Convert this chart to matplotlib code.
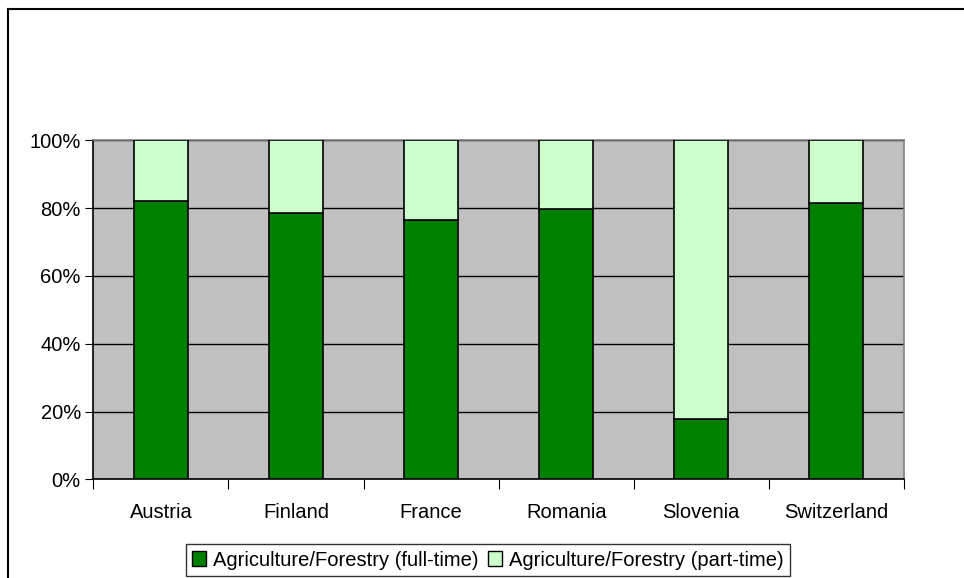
import matplotlib

matplotlib.use("Agg")
import matplotlib.pyplot as plt
from matplotlib.lines import Line2D
from matplotlib.patches import Patch
import numpy as np

plt.rcParams["font.family"] = ["Liberation Sans", "DejaVu Sans"]

countries = ["Austria", "Finland", "France", "Romania", "Slovenia", "Switzerland"]
full_time = [82.0, 78.6, 76.5, 79.8, 17.8, 81.5]
part_time = [100 - v for v in full_time]
y_ticks = [0, 20, 40, 60, 80, 100]
y_tick_labels = ["0%", "20%", "40%", "60%", "80%", "100%"]

DARK = "#008000"
LIGHT = "#CCFFCC"
W, H = 964, 578
FS = 14.5

fig = plt.figure(figsize=(W / 100, H / 100), dpi=100)
ax = fig.add_axes([93.3 / W, 1 - 479.3 / H, (904 - 93.3) / W, (479.3 - 140.3) / H])
ax.set_facecolor("#C0C0C0")

x = np.arange(len(countries))
ax.bar(x, full_time, width=0.4, color=DARK, edgecolor="black", linewidth=1.2, zorder=3)
ax.bar(x, part_time, bottom=full_time, width=0.4, color=LIGHT, edgecolor="black",
       linewidth=1.2, zorder=3)

ax.set_xlim(-0.5, len(countries) - 0.5)
ax.set_ylim(0, 100)
ax.set_yticks(y_ticks)
ax.set_yticklabels(y_tick_labels, fontsize=FS)
ax.yaxis.grid(True, color="black", linewidth=1.0, zorder=1)
ax.set_axisbelow(True)

# category labels centred, tick marks between categories
ax.set_xticks(np.arange(len(countries) + 1) - 0.5)
ax.set_xticklabels([])
ax.set_xticks(x, minor=True)
ax.set_xticklabels(countries, minor=True, fontsize=FS)
ax.tick_params(axis="x", which="minor", length=0, pad=17)
ax.tick_params(axis="x", which="major", length=7, direction="out", color="black")
ax.tick_params(axis="y", length=6, direction="out", pad=3)

for side in ("top", "right"):
    ax.spines[side].set_color("#808080")
    ax.spines[side].set_linewidth(1.2)
for side in ("left", "bottom"):
    ax.spines[side].set_color("black")
    ax.spines[side].set_linewidth(1.2)

handles = [
    Patch(facecolor=DARK, edgecolor="black", label="Agriculture/Forestry (full-time)"),
    Patch(facecolor=LIGHT, edgecolor="black", label="Agriculture/Forestry (part-time)"),
]
leg = fig.legend(handles=handles, loc="center", bbox_to_anchor=(488 / W, 1 - 560 / H),
                 ncol=2, fontsize=FS, frameon=True, fancybox=False, edgecolor="black",
                 handlelength=0.7, handleheight=0.7, handletextpad=0.35,
                 columnspacing=0.45, borderpad=0.3, borderaxespad=0)
leg.get_frame().set_linewidth(1.0)

# chart-area frame (right and bottom edges fall outside the image)
fig.add_artist(Line2D([8 / W, 8 / W], [0, 1 - 9 / H], color="black", linewidth=1.5,
                      transform=fig.transFigure))
fig.add_artist(Line2D([8 / W, 1], [1 - 9 / H, 1 - 9 / H], color="black", linewidth=1.5,
                      transform=fig.transFigure))

fig.savefig("out.png", dpi=100)
